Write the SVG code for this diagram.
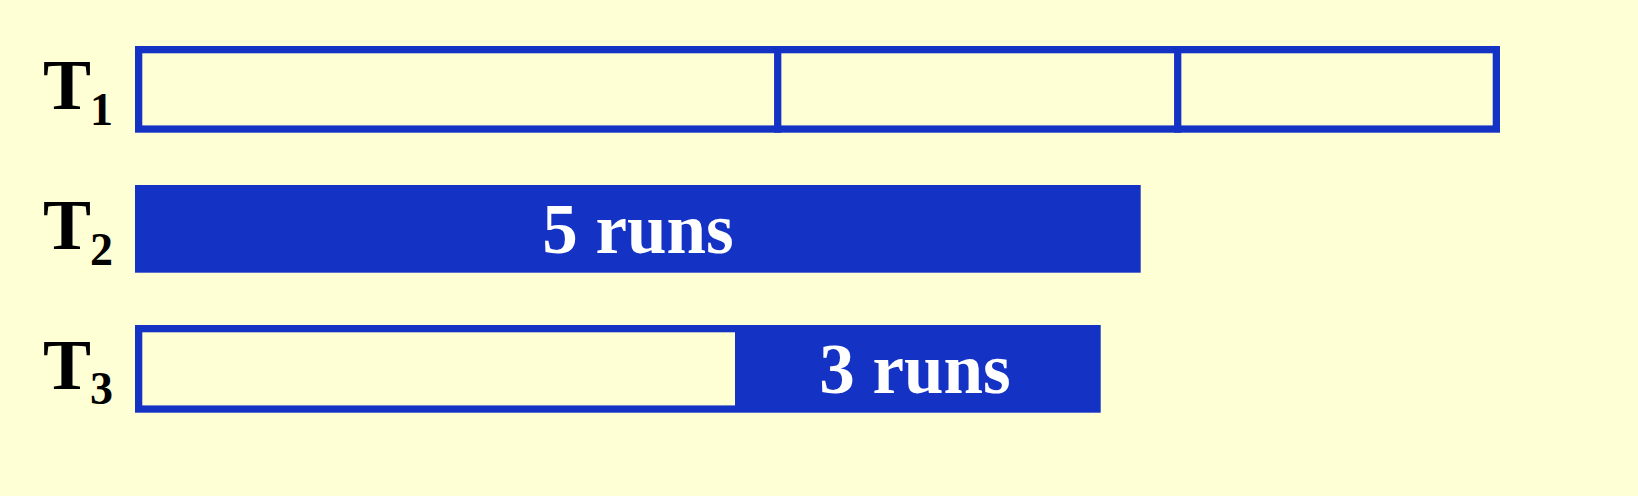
<svg xmlns="http://www.w3.org/2000/svg" width="1638" height="496" viewBox="0 0 1638 496">
<style>
.bg{fill:#FFFFD5}
.box{fill:#FFFFD5;stroke:#1432C4;stroke-width:7.3}
.fill{fill:#1432C4}
.lbl{font-family:"Liberation Serif","Times New Roman",serif;font-weight:bold;fill:#000}
.big{font-size:72px}
.sub{font-size:46px}
.run{font-family:"Liberation Serif","Times New Roman",serif;font-weight:bold;font-size:71px;fill:#fff;text-anchor:middle}
</style>
<rect class="bg" x="0" y="0" width="1638" height="496"/>
<g id="T1">
  <rect class="box" x="138.65" y="49.65" width="1357.7" height="79.4"/>
  <line x1="777.7" y1="46" x2="777.7" y2="132.7" stroke="#1432C4" stroke-width="7.3"/>
  <line x1="1177.7" y1="46" x2="1177.7" y2="132.7" stroke="#1432C4" stroke-width="7.3"/>
  <text class="lbl big" x="43" y="109">T</text>
  <text class="lbl sub" x="90" y="125">1</text>
</g>
<g id="T2">
  <rect class="fill" x="135" y="185" width="1005.7" height="87.7"/>
  <text class="run" x="638" y="253">5 runs</text>
  <text class="lbl big" x="43" y="249">T</text>
  <text class="lbl sub" x="90" y="265">2</text>
</g>
<g id="T3">
  <rect class="fill" x="135" y="325" width="965.7" height="87.7"/>
  <rect class="bg" x="142.3" y="332.3" width="592.7" height="73.1"/>
  <text class="run" x="915" y="393">3 runs</text>
  <text class="lbl big" x="43" y="389">T</text>
  <text class="lbl sub" x="90" y="404">3</text>
</g>
<g id="connectors"/>
</svg>
